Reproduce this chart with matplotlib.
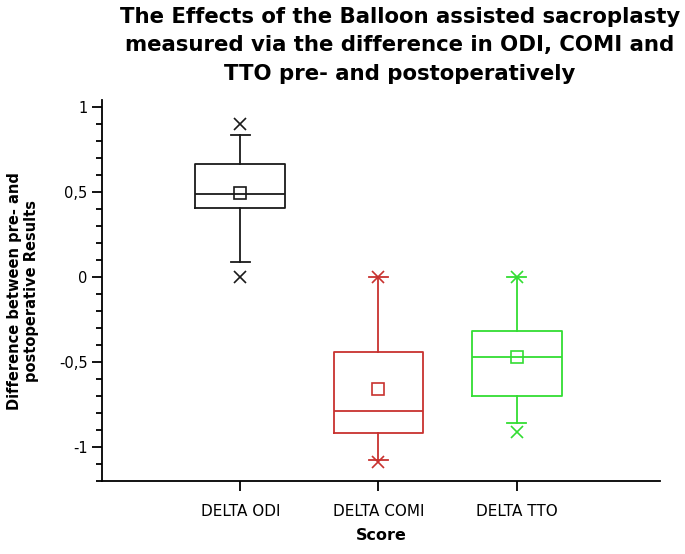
import matplotlib
matplotlib.use("Agg")
import matplotlib.pyplot as plt
from matplotlib.ticker import MultipleLocator, FuncFormatter

labels = ["DELTA ODI", "DELTA COMI", "DELTA TTO"]
colors = ["#1a1a1a", "#c8322f", "#33dd33"]

q1 = [0.405, -0.92, -0.70]
med = [0.488, -0.79, -0.47]
q3 = [0.667, -0.44, -0.32]
whislo = [0.086, -1.08, -0.86]
whishi = [0.835, 0.0, 0.0]
means = [0.493, -0.66, -0.47]
mins = [0.0, -1.09, -0.91]
maxs = [0.90, 0.0, 0.0]

fig = plt.figure(figsize=(6.85, 5.54), dpi=100)
ax = fig.add_axes([0.149, 0.132, 0.815, 0.687])

pos = [1, 2, 3]
for i in range(3):
    st = [dict(med=med[i], q1=q1[i], q3=q3[i], whislo=whislo[i],
               whishi=whishi[i], mean=means[i], fliers=[])]
    c = colors[i]
    lp = dict(color=c, linewidth=1.3)
    ax.bxp(st, positions=[pos[i]], widths=0.65, showmeans=True,
           showfliers=False, boxprops=lp, medianprops=lp, whiskerprops=lp,
           capprops=lp, capwidths=0.14,
           meanprops=dict(marker="s", markerfacecolor="none",
                          markeredgecolor=c, markersize=8, markeredgewidth=1.2))
    # min / max markers
    ax.plot([pos[i], pos[i]], [mins[i], maxs[i]], linestyle="none",
            marker="x", color=c, markersize=8, markeredgewidth=1.2)

ax.set_xlim(0, 4.04)
ax.set_ylim(-1.2, 1.04)
ax.set_xticks(pos)
ax.set_xticklabels(labels, fontsize=11)
ax.yaxis.set_major_locator(MultipleLocator(0.5))
ax.yaxis.set_minor_locator(MultipleLocator(0.1))
ax.yaxis.set_major_formatter(FuncFormatter(lambda v, p: ("%g" % v).replace(".", ",")))
ax.tick_params(axis="y", which="major", length=7, width=1.3, labelsize=10.5)
ax.tick_params(axis="y", which="minor", length=4, width=1.3)
ax.tick_params(axis="x", length=7, width=1.3, pad=10)
for s in ["top", "right"]:
    ax.spines[s].set_visible(False)
for s in ["left", "bottom"]:
    ax.spines[s].set_linewidth(1.3)

ax.set_xlabel("Score", fontsize=11.5, fontweight="bold", labelpad=6)
ax.set_ylabel("Difference between pre- and\npostoperative Results",
              fontsize=10.5, fontweight="bold", labelpad=14)

fig.text(0.584, 0.988, "The Effects of the Balloon assisted sacroplasty\n"
         "measured via the difference in ODI, COMI and\n"
         "TTO pre- and postoperatively",
         ha="center", va="top", fontsize=15.3, fontweight="bold", linespacing=1.55)

fig.savefig("out.png", dpi=100)
